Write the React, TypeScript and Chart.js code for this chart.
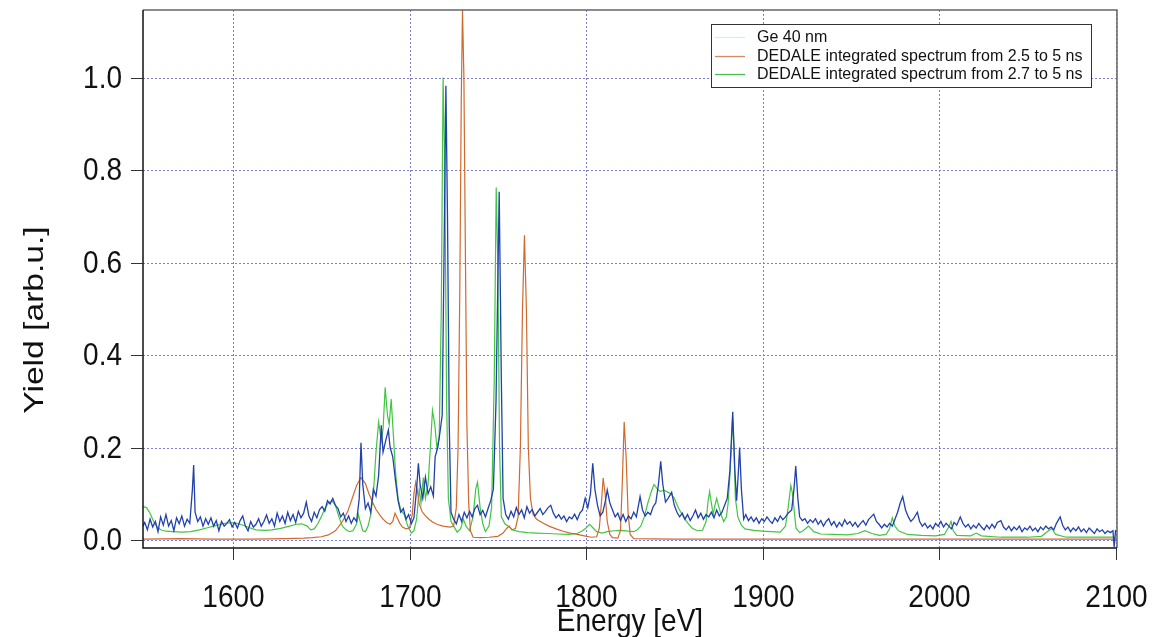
import React, { useEffect, useRef } from "react";
import { Chart, registerables } from "chart.js";

Chart.register(...registerables);

const FONT = "'Liberation Sans', Arial, sans-serif";

const xTicks = [1600, 1700, 1800, 1900, 2000, 2100];
const yTicks = [0, 0.2, 0.4, 0.6, 0.8, 1.0];
const xTickLabels = ["1600", "1700", "1800", "1900", "2000", "2100"];
const yTickLabels = ["0.0", "0.2", "0.4", "0.6", "0.8", "1.0"];
const xTitle = "Energy [eV]";
const yTitle = "Yield [arb.u.]";
const seriesLabels = [
  "Ge 40 nm",
  "DEDALE integrated spectrum from 2.5 to 5 ns",
  "DEDALE integrated spectrum from 2.7 to 5 ns",
];

// Ge 40 nm (measured)
const geEnergy = [
  1549, 1550, 1551.5, 1553, 1554.5, 1556, 1557.5, 1559, 1560.5, 1562,
  1563.5, 1565, 1566.5, 1568, 1569.5, 1571, 1572.5, 1574, 1575.5, 1577,
  1577.7, 1578.5, 1580, 1581.5, 1583, 1584.5, 1586, 1587.5, 1589, 1590.5,
  1592, 1593.5, 1595, 1596.5, 1598, 1599.5, 1601, 1602.5, 1604, 1605.5,
  1607, 1608.5, 1610, 1611.5, 1613, 1614.5, 1616, 1617.5, 1619, 1620.5,
  1622, 1623.5, 1625, 1626.5, 1628, 1629.5, 1631, 1632.5, 1634, 1635.5,
  1637, 1638.5, 1640, 1641.5, 1643, 1644.5, 1646, 1647.5, 1649, 1650.5,
  1652, 1653.5, 1655, 1656.5, 1658, 1659.5, 1661, 1662.5, 1664, 1665.5,
  1667, 1668.5, 1670, 1671.5, 1672.5, 1673.5, 1675, 1676.5, 1678, 1679.5,
  1681, 1682.5, 1684, 1685, 1686.5, 1688, 1689, 1690.5, 1692, 1693.5,
  1695, 1696.5, 1698, 1699.5, 1701, 1702.5, 1704, 1705, 1706, 1707.5,
  1709, 1710.5, 1712, 1713.5, 1714.5, 1716, 1717.5, 1718.5, 1719.5, 1720.6,
  1721.5, 1722.5, 1723.5, 1725, 1726.5, 1728, 1729.5, 1731, 1732.5, 1734,
  1735.5, 1737, 1738.5, 1740, 1741.5, 1743, 1744.5, 1746, 1747.5, 1749,
  1750.8, 1752, 1753, 1754.5, 1756, 1757.5, 1759, 1760.5, 1762, 1763.5,
  1765, 1766.5, 1768, 1769.5, 1771, 1772.5, 1774, 1775.5, 1777, 1778.5,
  1780, 1781.5, 1783, 1784.5, 1786, 1787.5, 1789, 1790.5, 1792, 1793.5,
  1795, 1796.5, 1798, 1799.5, 1801, 1802.5, 1803.8, 1805, 1806.5, 1808,
  1809.5, 1811, 1812, 1813.5, 1815, 1816.5, 1818, 1819.5, 1821, 1822.5,
  1824, 1825.5, 1827, 1828.5, 1830.6, 1832, 1833.5, 1835, 1836.5, 1838,
  1839.5, 1841, 1842.3, 1843.5, 1845, 1846.5, 1848.5, 1850, 1851.5, 1853,
  1854.5, 1856, 1857.5, 1859, 1860.5, 1862, 1863.5, 1865, 1866.5, 1868,
  1869.5, 1871, 1872.5, 1874, 1875.5, 1877, 1878.5, 1880, 1881.5, 1883.1,
  1884.3, 1885.3, 1886.2, 1887, 1888, 1889.3, 1890.5, 1892, 1893.5, 1895,
  1896.5, 1898, 1899.5, 1901, 1902.5, 1904, 1905.5, 1907, 1908.5, 1910,
  1911.5, 1913, 1914.5, 1916.5, 1917.8, 1918.8, 1920, 1921, 1922.5, 1924,
  1925.5, 1927, 1928.5, 1930, 1931.5, 1933, 1934.5, 1936, 1937.5, 1939,
  1940.5, 1942, 1943.5, 1945, 1946.5, 1948, 1949.5, 1951, 1952.5, 1954,
  1955.5, 1957, 1958.5, 1960, 1961.5, 1963, 1964.5, 1966, 1967.5, 1969,
  1970.5, 1972, 1973.5, 1975, 1976.5, 1978, 1979.4, 1981, 1982.6, 1984,
  1985.5, 1987.7, 1989, 1990.5, 1992, 1993.5, 1995, 1996.5, 1998, 1999.5,
  2001, 2002.5, 2004, 2005.5, 2007, 2008.5, 2010, 2012, 2013.5, 2015,
  2016.5, 2018, 2019.5, 2021, 2022.5, 2024, 2025.5, 2027, 2028.5, 2030,
  2031.5, 2033, 2035, 2036.5, 2038, 2039.5, 2041, 2042.5, 2044, 2045.5,
  2047, 2048.5, 2050, 2051.5, 2053, 2054.5, 2056, 2057.5, 2059, 2060.5,
  2062, 2063.5, 2065, 2066.5, 2068.6, 2070, 2071.5, 2073, 2074.5, 2076,
  2077.5, 2079, 2080.5, 2082, 2083.5, 2085, 2086.5, 2088, 2089.5, 2091,
  2092.5, 2094, 2095.5, 2097, 2098.5, 2099.2, 2100,
];
const geYield = [
  0.030, 0.038, 0.022, 0.045, 0.028, 0.040, 0.018, 0.050, 0.032, 0.055,
  0.030, 0.042, 0.020, 0.048, 0.035, 0.052, 0.030, 0.045, 0.036, 0.110,
  0.162, 0.060, 0.040, 0.050, 0.030, 0.046, 0.034, 0.048, 0.030, 0.042,
  0.020, 0.040, 0.030, 0.036, 0.044, 0.028, 0.038, 0.026, 0.042, 0.052,
  0.030, 0.020, 0.040, 0.028, 0.034, 0.046, 0.030, 0.040, 0.054, 0.036,
  0.046, 0.030, 0.058, 0.040, 0.052, 0.036, 0.060, 0.042, 0.055, 0.038,
  0.062, 0.048, 0.058, 0.082, 0.052, 0.040, 0.060, 0.048, 0.066, 0.072,
  0.062, 0.085, 0.078, 0.090, 0.075, 0.068, 0.050, 0.058, 0.040, 0.052,
  0.036, 0.048, 0.040, 0.090, 0.210, 0.120, 0.068, 0.080, 0.060, 0.110,
  0.095, 0.140, 0.248, 0.190, 0.215, 0.238, 0.200, 0.180, 0.130, 0.085,
  0.060, 0.068, 0.045, 0.055, 0.035, 0.048, 0.110, 0.166, 0.120, 0.090,
  0.136, 0.100, 0.115, 0.095, 0.180, 0.200, 0.240, 0.270, 0.600, 0.982,
  0.700, 0.250, 0.060, 0.045, 0.035, 0.055, 0.040, 0.060, 0.048, 0.062,
  0.050, 0.068, 0.075, 0.055, 0.064, 0.050, 0.068, 0.085, 0.110, 0.300,
  0.753, 0.350, 0.090, 0.055, 0.045, 0.062, 0.050, 0.070, 0.055, 0.065,
  0.048, 0.072, 0.058, 0.066, 0.052, 0.060, 0.068, 0.055, 0.062, 0.070,
  0.075, 0.058, 0.048, 0.055, 0.045, 0.052, 0.040, 0.050, 0.046, 0.056,
  0.044, 0.058, 0.065, 0.090, 0.070, 0.100, 0.166, 0.110, 0.075, 0.052,
  0.060, 0.085, 0.108, 0.080, 0.065, 0.050, 0.058, 0.042, 0.055, 0.040,
  0.052, 0.046, 0.060, 0.050, 0.094, 0.065, 0.052, 0.060, 0.055, 0.072,
  0.080, 0.120, 0.170, 0.120, 0.082, 0.090, 0.103, 0.075, 0.060, 0.050,
  0.058, 0.045, 0.055, 0.042, 0.052, 0.065, 0.048, 0.058, 0.045, 0.055,
  0.050, 0.060, 0.048, 0.065, 0.052, 0.060, 0.075, 0.090, 0.150, 0.277,
  0.150, 0.085, 0.140, 0.200, 0.110, 0.045, 0.055, 0.042, 0.050, 0.040,
  0.048, 0.036, 0.046, 0.040, 0.050, 0.042, 0.036, 0.048, 0.040, 0.052,
  0.044, 0.050, 0.058, 0.065, 0.110, 0.160, 0.090, 0.050, 0.042, 0.046,
  0.036, 0.044, 0.038, 0.046, 0.034, 0.042, 0.030, 0.040, 0.046, 0.032,
  0.040, 0.028, 0.038, 0.030, 0.044, 0.034, 0.040, 0.030, 0.038, 0.028,
  0.036, 0.042, 0.032, 0.044, 0.050, 0.056, 0.040, 0.034, 0.026, 0.034,
  0.028, 0.036, 0.030, 0.045, 0.060, 0.080, 0.094, 0.065, 0.050, 0.040,
  0.046, 0.060, 0.040, 0.030, 0.036, 0.026, 0.032, 0.024, 0.036, 0.030,
  0.040, 0.028, 0.036, 0.030, 0.024, 0.038, 0.032, 0.050, 0.036, 0.028,
  0.034, 0.024, 0.032, 0.026, 0.036, 0.028, 0.022, 0.032, 0.024, 0.034,
  0.026, 0.038, 0.042, 0.028, 0.022, 0.030, 0.020, 0.028, 0.022, 0.030,
  0.018, 0.026, 0.022, 0.030, 0.020, 0.026, 0.018, 0.028, 0.022, 0.030,
  0.024, 0.028, 0.022, 0.036, 0.050, 0.032, 0.022, 0.028, 0.018, 0.026,
  0.020, 0.028, 0.018, 0.024, 0.016, 0.026, 0.020, 0.014, 0.024, 0.018,
  0.022, 0.014, 0.020, 0.016, 0.020, -0.015, 0.022,
];

// DEDALE 2.5 - 5 ns
const d25Energy = [
  1549, 1570, 1590, 1610, 1630, 1640, 1645, 1650, 1654, 1658,
  1662, 1665, 1668, 1670, 1672.5, 1675, 1677, 1679, 1681, 1683,
  1685, 1687, 1689, 1690.5, 1691.8, 1693, 1694.5, 1696, 1698, 1700,
  1701.5, 1702.5, 1703.5, 1704.5, 1705.5, 1707, 1709, 1711, 1713, 1715,
  1717, 1719, 1721, 1723, 1725, 1726.5, 1727.5, 1728.5, 1729.3, 1730,
  1730.8, 1731.7, 1732.5, 1733.5, 1734.5, 1736, 1740, 1745, 1750, 1753,
  1755, 1756.5, 1758, 1760, 1761.5, 1762.8, 1764, 1765.1, 1766.2, 1767.3,
  1768.5, 1770, 1772, 1775, 1779, 1783, 1787, 1791, 1795, 1799,
  1803, 1806, 1807.5, 1808.7, 1809.7, 1810.8, 1812, 1813.5, 1815, 1818,
  1819.5, 1820.5, 1821.6, 1822.7, 1823.8, 1825, 1827, 1850, 1900, 1950,
  2000, 2050, 2100,
];
const d25Yield = [
  0.002, 0.003, 0.002, 0.002, 0.003, 0.004, 0.005, 0.007, 0.011, 0.020,
  0.040, 0.062, 0.095, 0.118, 0.135, 0.122, 0.100, 0.082, 0.066, 0.055,
  0.045, 0.038, 0.034, 0.040, 0.058, 0.048, 0.036, 0.028, 0.024, 0.026,
  0.055, 0.100, 0.125, 0.105, 0.078, 0.062, 0.052, 0.045, 0.039, 0.035,
  0.032, 0.030, 0.029, 0.028, 0.030, 0.070, 0.200, 0.550, 0.950, 1.146,
  1.000, 0.600, 0.250, 0.080, 0.020, 0.006, 0.005, 0.006, 0.008, 0.015,
  0.025, 0.030, 0.022, 0.025, 0.050, 0.200, 0.500, 0.659, 0.500, 0.200,
  0.090, 0.055, 0.045, 0.038, 0.030, 0.024, 0.019, 0.015, 0.012, 0.009,
  0.006, 0.007, 0.025, 0.080, 0.134, 0.100, 0.040, 0.012, 0.005, 0.004,
  0.020, 0.120, 0.255, 0.180, 0.060, 0.012, 0.003, 0.002, 0.002, 0.002,
  0.002, 0.002, 0.002,
];

// DEDALE 2.7 - 5 ns
const d27Energy = [
  1549, 1551, 1553, 1555, 1557, 1559, 1562, 1566, 1571, 1576,
  1581, 1585, 1589, 1593, 1597, 1601, 1605, 1609, 1613, 1618,
  1622, 1627, 1632, 1636, 1639, 1642, 1644, 1646, 1648, 1650,
  1652, 1654, 1656, 1658, 1660, 1662, 1664, 1666, 1668, 1670,
  1671, 1672, 1673.5, 1675, 1676.5, 1678, 1679.5, 1681, 1682.5, 1684,
  1685, 1686.2, 1687.5, 1688.5, 1689.6, 1690.8, 1692, 1693.5, 1695, 1697,
  1699, 1701, 1702.5, 1704, 1705.5, 1706.5, 1707.8, 1709, 1710.5, 1711.8,
  1713, 1714.3, 1715.5, 1716.8, 1718, 1719, 1720, 1721, 1722, 1723.5,
  1725, 1727, 1729, 1730.5, 1732, 1734, 1736, 1737.5, 1738.5, 1740,
  1741.5, 1743, 1745, 1746.5, 1748, 1749.1, 1750, 1751, 1752, 1754,
  1756, 1758, 1762, 1767, 1772, 1778, 1784, 1790, 1795, 1798,
  1800, 1802, 1804, 1806, 1809, 1812, 1816, 1820, 1824, 1827,
  1829, 1831, 1833, 1835, 1837, 1838.5, 1840, 1842, 1844, 1846,
  1848, 1850, 1852, 1854, 1856, 1858, 1860, 1863, 1866, 1868,
  1869, 1870, 1871, 1872, 1873, 1874, 1875, 1876.5, 1878, 1879.5,
  1880.5, 1881.5, 1882.3, 1883, 1883.8, 1884.6, 1886, 1888, 1890, 1895,
  1900, 1905, 1910, 1913, 1914.5, 1916, 1917, 1918, 1919, 1921,
  1923, 1926, 1929, 1933, 1940, 1948, 1954, 1958, 1962, 1966,
  1970, 1972, 1973.5, 1975, 1977, 1982, 1990, 1998, 2003, 2005.5,
  2006.8, 2008, 2010, 2018, 2021, 2024, 2035, 2050, 2058, 2062,
  2064, 2066, 2072, 2085, 2100,
];
const d27Yield = [
  0.072, 0.070, 0.058, 0.040, 0.028, 0.022, 0.019, 0.018, 0.017, 0.018,
  0.022, 0.026, 0.030, 0.034, 0.037, 0.037, 0.033, 0.027, 0.022, 0.021,
  0.022, 0.025, 0.030, 0.034, 0.035, 0.030, 0.022, 0.024, 0.035, 0.050,
  0.068, 0.080, 0.085, 0.075, 0.050, 0.030, 0.022, 0.018, 0.020, 0.035,
  0.055, 0.040, 0.020, 0.018, 0.030, 0.055, 0.100, 0.190, 0.255, 0.215,
  0.240, 0.330, 0.270, 0.250, 0.305, 0.230, 0.150, 0.090, 0.065, 0.055,
  0.030, 0.015, 0.020, 0.045, 0.110, 0.080, 0.135, 0.090, 0.120, 0.200,
  0.280, 0.250, 0.200, 0.220, 0.500, 1.000, 0.800, 0.300, 0.090, 0.040,
  0.030, 0.017, 0.025, 0.045, 0.030, 0.020, 0.050, 0.110, 0.125, 0.070,
  0.035, 0.018, 0.030, 0.070, 0.350, 0.762, 0.600, 0.200, 0.050, 0.035,
  0.030, 0.022, 0.018, 0.016, 0.015, 0.014, 0.013, 0.012, 0.014, 0.020,
  0.026, 0.034, 0.026, 0.018, 0.015, 0.018, 0.020, 0.021, 0.019, 0.018,
  0.022, 0.030, 0.050, 0.080, 0.105, 0.120, 0.112, 0.105, 0.108, 0.104,
  0.100, 0.090, 0.072, 0.058, 0.045, 0.035, 0.026, 0.020, 0.021, 0.040,
  0.080, 0.105, 0.080, 0.055, 0.075, 0.090, 0.075, 0.055, 0.040, 0.050,
  0.080, 0.140, 0.200, 0.262, 0.200, 0.090, 0.050, 0.032, 0.024, 0.021,
  0.019, 0.018, 0.017, 0.030, 0.070, 0.118, 0.100, 0.060, 0.025, 0.016,
  0.020, 0.030, 0.018, 0.013, 0.012, 0.011, 0.014, 0.020, 0.014, 0.010,
  0.012, 0.025, 0.048, 0.030, 0.020, 0.012, 0.010, 0.009, 0.012, 0.028,
  0.040, 0.020, 0.010, 0.009, 0.015, 0.009, 0.006, 0.006, 0.008, 0.020,
  0.025, 0.012, 0.006, 0.006, 0.006,
];

const lineColors = ["#2141ad", "#d0692f", "#42c542"];
const legendSampleColors = ["#cfeefa", "#d48a62", "#4cc04c"];

const toPoints = (xs: number[], ys: number[]) =>
  xs.map((x, i) => ({ x, y: ys[i] }));

const decorPlugin = {
  id: "decor",
  beforeDatasetsDraw(chart: any) {
    const { ctx, chartArea: a, scales } = chart;
    const xs = scales.x;
    const ys = scales.y;
    ctx.save();
    ctx.strokeStyle = "#7d7dd6";
    ctx.lineWidth = 1;
    ctx.setLineDash([2, 2]);
    for (const v of xTicks) {
      const px = Math.round(xs.getPixelForValue(v)) + 0.5;
      ctx.beginPath();
      ctx.moveTo(px, a.top);
      ctx.lineTo(px, a.bottom);
      ctx.stroke();
    }
    for (const v of yTicks) {
      const py = Math.round(ys.getPixelForValue(v)) + 0.5;
      ctx.beginPath();
      ctx.moveTo(a.left, py);
      ctx.lineTo(a.right, py);
      ctx.stroke();
    }
    ctx.restore();
  },
  afterDatasetsDraw(chart: any) {
    const { ctx, chartArea: a, scales } = chart;
    const xs = scales.x;
    const ys = scales.y;
    ctx.save();
    // frame
    ctx.setLineDash([]);
    ctx.lineWidth = 1.5;
    ctx.strokeStyle = "#666";
    ctx.beginPath();
    ctx.moveTo(a.left, a.top);
    ctx.lineTo(a.right, a.top);
    ctx.lineTo(a.right, a.bottom);
    ctx.stroke();
    ctx.strokeStyle = "#111";
    ctx.beginPath();
    ctx.moveTo(a.left, a.top);
    ctx.lineTo(a.left, a.bottom);
    ctx.lineTo(a.right, a.bottom);
    ctx.stroke();
    // tick marks + labels
    ctx.lineWidth = 1;
    ctx.strokeStyle = "#333";
    ctx.fillStyle = "#111";
    ctx.font = `28px ${FONT}`;
    xTicks.forEach((v, i) => {
      const px = Math.round(xs.getPixelForValue(v)) + 0.5;
      ctx.beginPath();
      ctx.moveTo(px, a.bottom);
      ctx.lineTo(px, a.bottom + 12);
      ctx.stroke();
      ctx.textAlign = "center";
      ctx.textBaseline = "middle";
      ctx.save();
      ctx.translate(px, 598);
      ctx.scale(1, 1.12);
      ctx.fillText(xTickLabels[i], 0, 0);
      ctx.restore();
    });
    yTicks.forEach((v, i) => {
      const py = Math.round(ys.getPixelForValue(v)) + 0.5;
      ctx.beginPath();
      ctx.moveTo(a.left - 12, py);
      ctx.lineTo(a.left, py);
      ctx.stroke();
      ctx.textAlign = "right";
      ctx.textBaseline = "middle";
      ctx.save();
      ctx.translate(122, py + 1);
      ctx.scale(1, 1.12);
      ctx.fillText(yTickLabels[i], 0, 0);
      ctx.restore();
    });
    // axis titles
    ctx.textAlign = "center";
    ctx.textBaseline = "middle";
    ctx.save();
    ctx.translate((a.left + a.right) / 2, 622);
    ctx.scale(1, 1.12);
    ctx.fillText(xTitle, 0, 0);
    ctx.restore();
    ctx.save();
    ctx.translate(35, 320);
    ctx.rotate(-Math.PI / 2);
    ctx.scale(1.2, 1);
    ctx.fillText(yTitle, 0, 0);
    ctx.restore();
    // legend
    const bx = 711, by = 24, bw = 380, bh = 63;
    ctx.fillStyle = "#fff";
    ctx.fillRect(bx, by, bw, bh);
    ctx.strokeStyle = "#333";
    ctx.lineWidth = 1;
    ctx.strokeRect(bx + 0.5, by + 0.5, bw, bh);
    ctx.font = `16px ${FONT}`;
    ctx.textAlign = "left";
    ctx.textBaseline = "middle";
    const rowY = [37, 55.5, 74];
    seriesLabels.forEach((label, i) => {
      ctx.strokeStyle = legendSampleColors[i];
      ctx.lineWidth = 1.3;
      ctx.beginPath();
      ctx.moveTo(715, Math.round(rowY[i]) + 0.5);
      ctx.lineTo(745, Math.round(rowY[i]) + 0.5);
      ctx.stroke();
      ctx.fillStyle = "#111";
      ctx.fillText(label, 757, rowY[i] + 1);
    });
    ctx.restore();
  },
};

export default function App() {
  const ref = useRef<HTMLCanvasElement>(null);
  useEffect(() => {
    document.body.style.margin = "0";
    const chart = new Chart(ref.current as HTMLCanvasElement, {
      type: "line",
      data: {
        datasets: [
          {
            label: seriesLabels[0],
            data: toPoints(geEnergy, geYield),
            borderColor: lineColors[0],
            borderWidth: 1.3,
            pointRadius: 0,
            tension: 0,
          },
          {
            label: seriesLabels[1],
            data: toPoints(d25Energy, d25Yield),
            borderColor: lineColors[1],
            borderWidth: 1.2,
            pointRadius: 0,
            tension: 0,
          },
          {
            label: seriesLabels[2],
            data: toPoints(d27Energy, d27Yield),
            borderColor: lineColors[2],
            borderWidth: 1.2,
            pointRadius: 0,
            tension: 0,
          },
        ],
      },
      options: {
        responsive: false,
        animation: false,
        devicePixelRatio: 1,
        layout: { padding: { left: 0, top: 10, right: 36, bottom: 0 } },
        plugins: { legend: { display: false }, tooltip: { enabled: false } },
        scales: {
          x: {
            type: "linear",
            min: 1549,
            max: 2100.8,
            grid: { display: false, drawTicks: false },
            border: { display: false },
            ticks: { display: false },
            afterFit: (s: any) => {
              s.height = 89;
            },
            afterBuildTicks: (s: any) => {
              s.ticks = xTicks.map((v) => ({ value: v }));
            },
          },
          y: {
            type: "linear",
            min: -0.0173,
            max: 1.146,
            grid: { display: false, drawTicks: false },
            border: { display: false },
            ticks: { display: false },
            afterFit: (s: any) => {
              s.width = 143;
            },
            afterBuildTicks: (s: any) => {
              s.ticks = yTicks.map((v) => ({ value: v }));
            },
          },
        },
      },
      plugins: [decorPlugin],
    } as any);
    return () => chart.destroy();
  }, []);
  return (
    <div
      style={{
        position: "absolute",
        left: 0,
        top: 0,
        width: 1153,
        height: 637,
        background: "#fff",
      }}
    >
      <canvas ref={ref} width={1153} height={637} style={{ display: "block" }} />
    </div>
  );
}
